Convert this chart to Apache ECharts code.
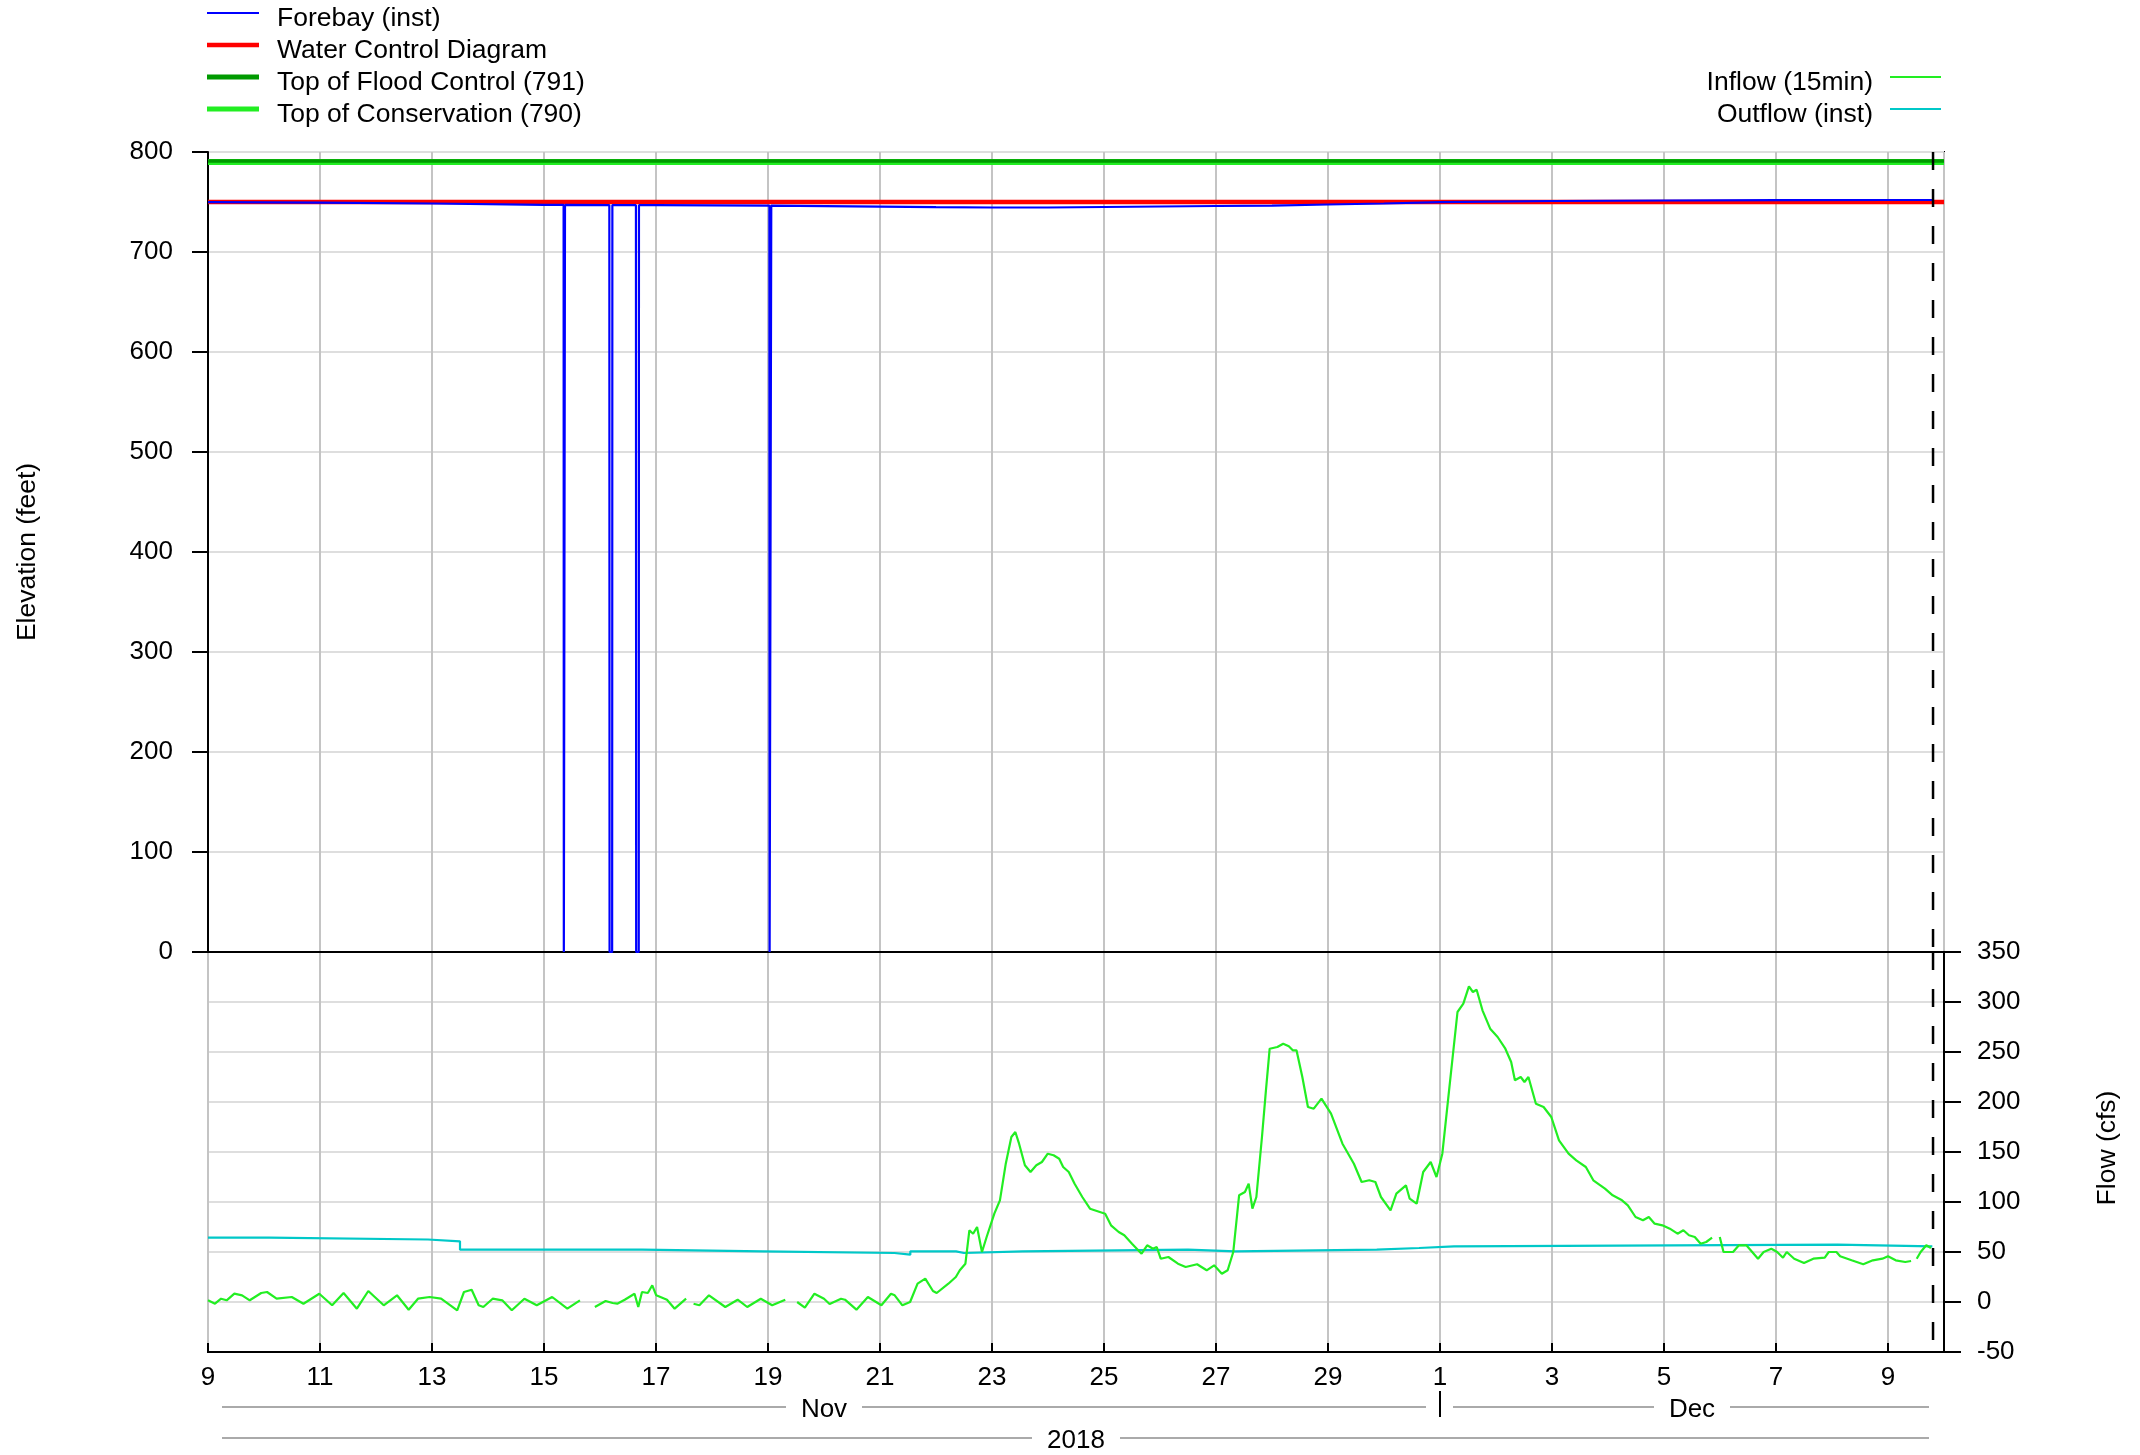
<!DOCTYPE html>
<html><head><meta charset="utf-8">
<script src="https://cdn.jsdelivr.net/npm/echarts@6/dist/echarts.min.js"></script>
<style>html,body{margin:0;padding:0;background:#fff}#c{width:2140px;height:1455px}</style>
</head><body><div id="c"></div>
<script>
// ---- data (x values are hours after 2018-11-09 00:00) ----
const startDate = Date.UTC(2018, 10, 9);
const axisEndHour = 744;          // 2018-12-10 00:00
const dashedHour = 739.3;         // current-time marker

const conservationLevel = 790;
const floodControlLevel = 791;
const wcdHours = [0, 744];
const wcdValues = [750, 750];

const forebayHours = [0, 48, 96, 144, 152.4, 152.5, 152.9, 153.0, 172.0, 172.1, 173.2, 173.3,
  183.4, 183.5, 184.6, 184.7, 192, 240.6, 240.7, 241.3, 241.4, 288, 312, 336, 360, 384, 408,
  432, 456, 480, 504, 528, 576, 624, 672, 720, 739];
const forebayValues = [749.8, 749.3, 748.5, 747.2, 747.1, 0, 0, 747.1, 746.9, 0, 0, 746.9,
  746.8, 0, 0, 746.8, 746.8, 746.4, 0, 0, 746.4, 745.3, 744.8, 744.5, 744.5, 745, 745.5,
  746, 746.3, 747.5, 748.5, 749.8, 751, 751.5, 751.8, 752, 752];

const inflowHours = [0,3,5.6,8,11.3,14.6,17.9,22.8,25.3,29.4,35.9,40.9,47.7,53.2,58.1,63.8,68.7,75.3,81,86,90,95,99.9,106.8,109.7,113,116,118,122,126.1,130.2,135.6,140.9,147.5,154,159.4,162,165.8,170.4,173.4,175.4,178.6,182.8,184.4,186,188.5,190.4,192.1,196.7,200,204.9,206.5,208.1,210.6,214.7,221.7,227,231.1,236.9,241.8,247.4,250,252.5,255.8,259.9,264,266.4,271.3,273,277.9,282.8,288.6,292.7,294.3,297.6,300.9,304.1,307.4,310.7,312.3,317.3,320.5,322.2,324.6,326.3,327.9,329.6,331.7,333.7,337,339.4,341.9,344.3,346,347.6,350.1,352.5,355,357.4,359.9,362.4,364.8,366.5,368.9,371.4,374.7,378,384.5,387,390.3,392.7,396,400.1,402.5,405,406.6,408.3,411.6,415.7,419,423.9,428,431.2,434.5,437,439.4,441.1,441.9,444.4,446,447.6,449.3,451.7,453.4,455,458.3,460.8,463.2,464.9,466.5,469,471.4,473.9,477.2,481.3,486.2,491.1,494.4,497.7,500.3,502.7,506.8,509.3,513.4,515,518,520.8,524,526.5,529,532.2,535.5,538,540.4,542.1,543.7,546.2,549.5,552.7,556,558.5,560.1,562.6,564.2,565.9,569.1,572.4,575.7,579,583.1,586.4,590.5,593.7,598.7,602,606,608.5,611.8,615,617.5,620,623.3,626.5,629.8,632.3,634.7,637.2,639.7,642.1,644.6,646,647.9,649.5,653.6,656.1,659.3,664.3,666.7,670,672.5,675,676.6,679.8,684,688,692.9,694.6,697.9,699.5,704.4,709.4,713.5,717.6,720,723.3,727.4,729.9,731,732.3,734,736.4,738.4];
const inflowValues = [1.7,-1.7,3.3,1.7,8.3,6.7,1.7,9,10,3.3,5,-1.7,8.3,-3.3,9,-6.7,11,-3.3,6.7,-7.7,3.3,5,3.3,-8.3,10,12.3,-3.3,-5,3.3,1.7,-8.3,3.3,-3.3,5,-6.7,1.7,null,-5,1,-1,-1.7,2.3,8.3,-5,10,9,16.7,6.7,2.3,-6.7,3.3,null,-1.7,-3.3,6.7,-5,2.3,-5,3.3,-3.3,2.3,null,0,-5.7,8.3,3.3,-2,3.3,2.3,-7.7,5,-3.3,8.3,6.7,-3.3,0,18.3,23.3,11,9,18.3,25,31.7,38.3,71.7,68.3,75,50,65,88.3,101.7,138.3,165,170,158.3,136.7,130,136.7,140,148.3,146.7,143.3,135,130,118.3,105,93.3,88.3,76.7,70,66.7,58.3,48.3,56.7,53.3,55,43.3,45,38.3,35,37.7,31.7,36.7,28.3,31.7,50,88.3,106.7,110,118.3,93.3,105,165,211.7,253.3,255,258.3,255.7,251.7,251.7,225,195,193.3,203.3,188.3,158.3,138.3,120,121.7,120,105,91.7,108.3,116.7,103.3,98.3,130,140,125,148.3,218.3,290,298.3,315.7,310,312.3,291.7,273.3,265,253.3,240,221.7,225,220,225,198.3,195,185,161.7,148.3,141.7,135,121.7,113.3,106.7,101.7,96.7,85,81.7,85,78.3,76.7,73.3,68.3,71.7,66.7,65,58.3,60,64.3,null,65,50,50,56.7,56.7,43.3,50,53.3,50,44.3,50,43.3,39,43.3,44.3,50,50,45.7,41.7,37.7,41.7,43.3,45.7,41.7,40,41,null,43.3,50,56.7,54];

const outflowHours = [0, 26.2, 94.3, 108, 186, 237.6, 294.2, 301, 320.6, 324, 349.2, 420, 440.2, 500.9, 519, 534, 698.4, 739];
const outflowValues = [64.3, 62.5, 60.7, 52.3, 50.7, 49, 47.3, 50.7, 49, 50.7, 52.3, 50.7, 52.3, 54, 55.7, 57.3, 55.7, 55.7];

const elevationTicks = {min: 0, max: 800, interval: 100};
const flowTicks = {min: -50, max: 350, interval: 50};
const dayTickInterval = 48;

// ---- chart ----
const pair = (xs, ys) => xs.map((x, i) => [x, ys[i]]);
const stepPairs = (xs, ys) => {
  const out = [];
  xs.forEach((x, i) => {
    out.push([x, ys[i]]);
    if (i + 1 < xs.length) out.push([xs[i + 1], ys[i]]);
  });
  return out;
};
const FONT = 'Liberation Sans';
const F = s => s + 'px "' + FONT + '"';
const L = 208, T = 152, W = 1736, H1 = 800, H2 = 400;
const chart = echarts.init(document.getElementById('c'), null, {renderer: 'canvas'});

const dayLabel = v => v >= axisEndHour ? '' : String(new Date(startDate + v * 3600000).getUTCDate());

const baseX = (gi, showLabels) => ({
  type: 'value', gridIndex: gi, min: 0, max: axisEndHour, interval: dayTickInterval,
  axisLine: {show: true, onZero: false, lineStyle: {color: '#000', width: 2}},
  axisTick: {show: showLabels, inside: true, length: 9, lineStyle: {color: '#000', width: 2}},
  axisLabel: {show: showLabels, formatter: dayLabel, fontFamily: FONT, fontSize: 26, color: '#000', margin: 13, showMaxLabel: false},
  splitLine: {show: true, lineStyle: {color: '#c4c4c4', width: 2}}
});

const lineSeries = (name, xi, yi, data, color, width, extra) => Object.assign({
  name, type: 'line', xAxisIndex: xi, yAxisIndex: yi, data, symbol: 'none', showSymbol: false,
  connectNulls: false, silent: true, animation: false,
  lineStyle: {color, width}, itemStyle: {color}
}, extra || {});

const graphics = [];
// legend
const legRowY = [13, 45, 77, 109];
const leftLeg = [
  ['Forebay (inst)', '#0000ff', 2],
  ['Water Control Diagram', '#ff0000', 4.5],
  ['Top of Flood Control (791)', '#009a00', 5],
  ['Top of Conservation (790)', '#22ee22', 5]
];
leftLeg.forEach((it, i) => {
  graphics.push({type: 'line', shape: {x1: 207, y1: legRowY[i], x2: 259, y2: legRowY[i]}, style: {stroke: it[1], lineWidth: it[2]}});
  graphics.push({type: 'text', x: 277, y: legRowY[i] + 6, style: {text: it[0], font: F(26.5), fill: '#000', textAlign: 'left', textVerticalAlign: 'middle'}});
});
const rightLeg = [['Inflow (15min)', '#22ee22', 2, 2], ['Outflow (inst)', '#00c8c8', 2, 3]];
rightLeg.forEach(it => {
  const y = legRowY[it[3]];
  graphics.push({type: 'line', shape: {x1: 1890, y1: y, x2: 1941, y2: y}, style: {stroke: it[1], lineWidth: it[2]}});
  graphics.push({type: 'text', x: 1873, y: y + 6, style: {text: it[0], font: F(26.5), fill: '#000', textAlign: 'right', textVerticalAlign: 'middle'}});
});
// axis titles
graphics.push({type: 'text', x: 28, y: T + H1 / 2, rotation: Math.PI / 2,
  style: {text: 'Elevation (feet)', font: F(26.5), fill: '#000', textAlign: 'center', textVerticalAlign: 'middle'}});
graphics.push({type: 'text', x: 2108, y: T + H1 + H2 / 2 - 4, rotation: Math.PI / 2,
  style: {text: 'Flow (cfs)', font: F(26.5), fill: '#000', textAlign: 'center', textVerticalAlign: 'middle'}});
// month / year rows
const px = h => L + W * h / axisEndHour;
const rowY1 = 1407, rowY2 = 1438;
const grey = {stroke: '#aaaaaa', lineWidth: 2};
const seg = (x1, x2, y) => graphics.push({type: 'line', shape: {x1, y1: y, x2, y2: y}, style: grey});
const lbl = (t, x, y) => graphics.push({type: 'text', x, y: y + 3, style: {text: t, font: F(26), fill: '#000', textAlign: 'center', textVerticalAlign: 'middle'}});
const monthSplit = 528; // Dec 1
const novC = (px(0) + px(monthSplit)) / 2, decC = (px(monthSplit) + px(axisEndHour)) / 2, yrC = (px(0) + px(axisEndHour)) / 2;
seg(px(0) + 14, novC - 38, rowY1); lbl('Nov', novC, rowY1); seg(novC + 38, px(monthSplit) - 14, rowY1);
seg(px(monthSplit) + 13, decC - 38, rowY1); lbl('Dec', decC, rowY1); seg(decC + 38, px(axisEndHour) - 15, rowY1);
graphics.push({type: 'line', shape: {x1: px(monthSplit), y1: 1391, x2: px(monthSplit), y2: 1417}, style: {stroke: '#000', lineWidth: 2}});
seg(px(0) + 14, yrC - 44, rowY2); lbl('2018', yrC, rowY2); seg(yrC + 44, px(axisEndHour) - 15, rowY2);

chart.setOption({
  animation: false,
  backgroundColor: '#fff',
  textStyle: {fontFamily: FONT},
  grid: [
    {left: L, top: T, width: W, height: H1, show: true, borderColor: '#000', borderWidth: 2, containLabel: false},
    {left: L, top: T + H1, width: W, height: H2, show: true, borderColor: '#000', borderWidth: 2, containLabel: false}
  ],
  xAxis: [baseX(0, false), baseX(1, true)],
  yAxis: [
    {type: 'value', gridIndex: 0, position: 'left', min: elevationTicks.min, max: elevationTicks.max, interval: elevationTicks.interval,
      axisLine: {show: true, onZero: false, lineStyle: {color: '#000', width: 2}},
      axisTick: {show: true, inside: false, length: 16, lineStyle: {color: '#000', width: 2}},
      axisLabel: {fontFamily: FONT, fontSize: 26, color: '#000', margin: 35},
      splitLine: {show: true, lineStyle: {color: '#dedede', width: 2}}},
    {type: 'value', gridIndex: 1, position: 'right', min: flowTicks.min, max: flowTicks.max, interval: flowTicks.interval,
      axisLine: {show: true, onZero: false, lineStyle: {color: '#000', width: 2}},
      axisTick: {show: true, inside: false, length: 17, lineStyle: {color: '#000', width: 2}},
      axisLabel: {fontFamily: FONT, fontSize: 26, color: '#000', margin: 33},
      splitLine: {show: true, lineStyle: {color: '#dedede', width: 2}}}
  ],
  graphic: graphics,
  series: [
    lineSeries('Top of Conservation (790)', 0, 0, [[0, conservationLevel], [axisEndHour, conservationLevel]], '#22ee22', 6),
    lineSeries('Top of Flood Control (791)', 0, 0, [[0, floodControlLevel], [axisEndHour, floodControlLevel]], '#009a00', 3.5),
    lineSeries('Water Control Diagram', 0, 0, pair(wcdHours, wcdValues), '#ff0000', 4.5),
    lineSeries('Forebay (inst)', 0, 0, pair(forebayHours, forebayValues), '#0000ff', 2.2),
    lineSeries('now-upper', 0, 0, [[dashedHour, elevationTicks.max], [dashedHour, elevationTicks.min]], '#000', 2.5, {lineStyle: {color: '#000', width: 2.5, type: [18, 19]}}),
    lineSeries('Outflow (inst)', 1, 1, stepPairs(outflowHours, outflowValues), '#00c8c8', 2.2),
    lineSeries('Inflow (15min)', 1, 1, pair(inflowHours, inflowValues), '#22ee22', 2.2),
    lineSeries('now-lower', 1, 1, [[dashedHour, flowTicks.max], [dashedHour, flowTicks.min]], '#000', 2.5, {lineStyle: {color: '#000', width: 2.5, type: [18, 19]}})
  ]
});
</script></body></html>
